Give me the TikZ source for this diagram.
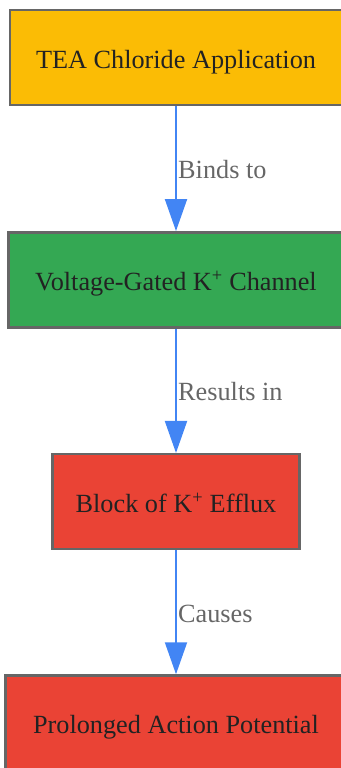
\documentclass[tikz,border=0pt]{standalone}
\usepackage{fontspec}
\setmainfont{Liberation Serif}
\usetikzlibrary{arrows.meta}
\definecolor{cyellow}{HTML}{FBBC05}
\definecolor{cgreen}{HTML}{34A853}
\definecolor{cred}{HTML}{EA4335}
\definecolor{cborder}{HTML}{666666}
\definecolor{cblue}{HTML}{4285F4}
\definecolor{ctext}{HTML}{222222}
\definecolor{clabel}{HTML}{666666}
\begin{document}
\begin{tikzpicture}[x=1pt,y=-1pt,
  box/.style={draw=cborder, line width=2.5pt, minimum height=95pt, inner sep=0pt,
    text height=21pt, text depth=0pt,
    text=ctext, font=\fontsize{26.25}{31}\selectfont},
  conn/.style={draw=cblue, line width=2pt, -{Triangle[length=32pt,width=22pt]}},
  elabel/.style={anchor=base west, inner sep=0pt, text=clabel, font=\fontsize{26.25}{31}\selectfont}]
\useasboundingbox (0,0) rectangle (340,768);
\node[box, fill=cyellow, minimum width=332pt] (a) at (176,57.5) {TEA Chloride Application};
\node[box, fill=cgreen, minimum width=334.6pt] (b) at (176,279.8) {Voltage-Gated K\textsuperscript{+} Channel};
\node[box, fill=cred, minimum width=246.7pt] (c) at (176,501.7) {Block of K\textsuperscript{+} Efflux};
\node[box, fill=cred, minimum width=341.4pt] (d) at (176,723) {Prolonged Action Potential};
\draw[conn] (a.south) -- (b.north);
\draw[conn] (b.south) -- (c.north);
\draw[conn] (c.south) -- (d.north);
\node[elabel] (la) at (178,178) {Binds to};
\node[elabel] (lb) at (178,400) {Results in};
\node[elabel] (lc) at (178,622) {Causes};
\end{tikzpicture}
\end{document}
